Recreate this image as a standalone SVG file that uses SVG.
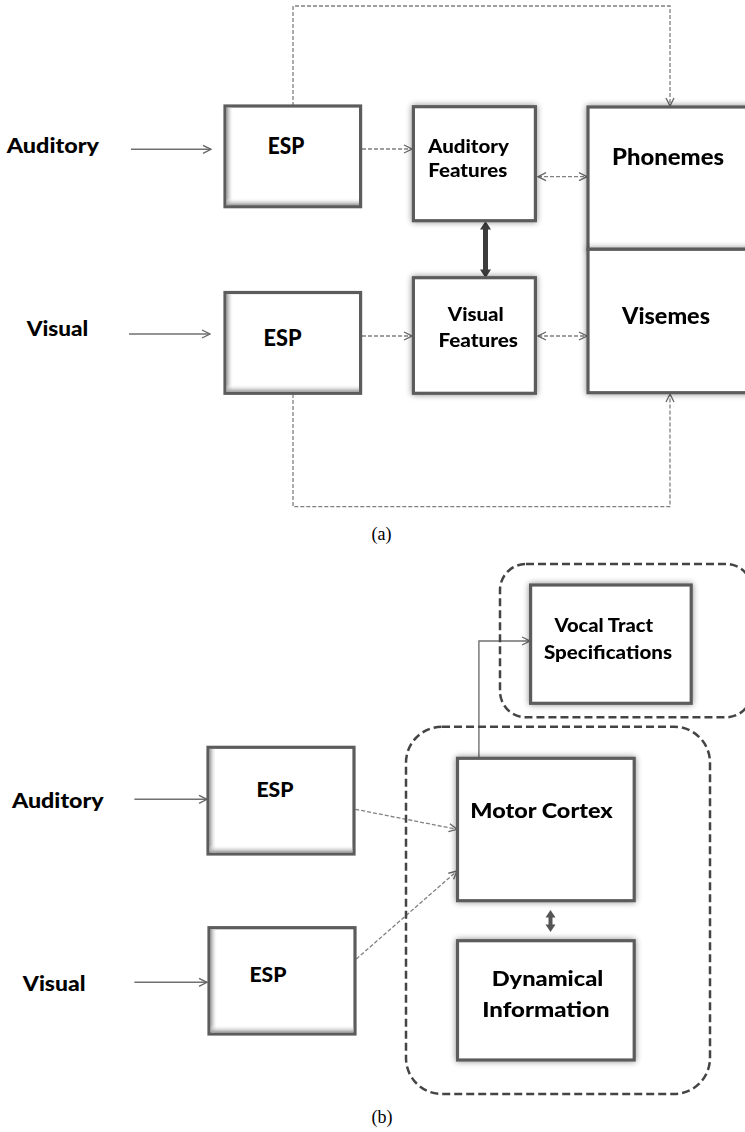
<svg xmlns="http://www.w3.org/2000/svg" width="745" height="1132" viewBox="0 0 745 1132">
<style>
.box{fill:#fff;stroke:#5c5c5c;stroke-width:3.2}
.glow{filter:url(#glow)}
.lbl{font-family:Lato,"Liberation Sans",sans-serif;font-weight:900;fill:#000}
.cap{font-family:"Liberation Serif",serif;font-size:18px;fill:#000;text-anchor:middle}
.solid{fill:none;stroke:#707070;stroke-width:1.4}
.dash{fill:none;stroke:#808080;stroke-width:1.3;stroke-dasharray:4 2}
.grp{fill:none;stroke:#444;stroke-width:2.5;stroke-dasharray:8 4}
.thick{fill:#3c3c3c}
</style>
<defs>
<filter id="glow" x="-20%" y="-20%" width="140%" height="140%">
<feGaussianBlur in="SourceAlpha" stdDeviation="3"/>
<feComponentTransfer><feFuncA type="linear" slope="0.45"/></feComponentTransfer>
<feMerge><feMergeNode/><feMergeNode in="SourceGraphic"/></feMerge>
</filter>
<linearGradient id="gl" x1="0" y1="0" x2="1" y2="0"><stop offset="0" stop-color="#999"/><stop offset="1" stop-color="#fff" stop-opacity="0"/></linearGradient>
<linearGradient id="gb" x1="0" y1="0" x2="0" y2="1"><stop offset="0" stop-color="#fff" stop-opacity="0"/><stop offset="1" stop-color="#999"/></linearGradient>
<marker id="ah" viewBox="0 0 10 10" refX="9" refY="5" markerWidth="10" markerHeight="10" markerUnits="userSpaceOnUse" orient="auto-start-reverse">
<path d="M1,1 L9,5 L1,9" fill="none" stroke="#666" stroke-width="1.3"/>
</marker>
</defs>

<!-- connectors -->
<g id="connectors">
<!-- (a) -->
<line class="solid" x1="131" y1="149.3" x2="211" y2="149.3" marker-end="url(#ah)"/>
<line class="solid" x1="129" y1="334" x2="210" y2="334" marker-end="url(#ah)"/>
<path class="dash" d="M293,106 V6 H670 V106" marker-end="url(#ah)"/>
<path class="dash" d="M293,394 V506.7 H670 V394" marker-end="url(#ah)"/>
<line class="dash" x1="362" y1="149" x2="412" y2="149" marker-end="url(#ah)"/>
<line class="dash" x1="362" y1="336" x2="412" y2="336" marker-end="url(#ah)"/>
<line class="dash" x1="538" y1="176.7" x2="587" y2="176.7" marker-start="url(#ah)" marker-end="url(#ah)"/>
<line class="dash" x1="538" y1="336" x2="587" y2="336" marker-start="url(#ah)" marker-end="url(#ah)"/>
<path class="thick" d="M485.5,221 L491,229.5 L488,229.5 L488,269.5 L491,269.5 L485.5,278 L480,269.5 L483,269.5 L483,229.5 L480,229.5 Z"/>
<!-- (b) -->
<line class="solid" x1="134.4" y1="799.3" x2="207" y2="799.3" marker-end="url(#ah)"/>
<line class="solid" x1="134.4" y1="982.3" x2="207" y2="982.3" marker-end="url(#ah)"/>
<line class="dash" x1="355.3" y1="809.3" x2="457" y2="829.3" marker-end="url(#ah)"/>
<line class="dash" x1="356.3" y1="959" x2="457" y2="871" marker-end="url(#ah)"/>
<path class="solid" d="M478.9,758 V641 H530" marker-end="url(#ah)"/>
<path class="thick" style="fill:#555" d="M550.5,910 L555.5,917.5 L552.5,917.5 L552.5,924.5 L555.5,924.5 L550.5,932 L545.5,924.5 L548.5,924.5 L548.5,917.5 L545.5,917.5 Z"/>
</g>

<!-- group outlines (b) -->
<g id="group-vocal"><rect class="grp" x="500" y="564" width="252" height="153.3" rx="26"/></g>
<g id="group-motor"><rect class="grp" x="406" y="726.7" width="304" height="367.3" rx="36"/></g>

<!-- (a) nodes -->
<g id="a-auditory-label"><text class="lbl" x="6.7" y="153" font-size="21" textLength="92.3" lengthAdjust="spacingAndGlyphs">Auditory</text></g>
<g id="a-visual-label"><text class="lbl" x="26.7" y="336" font-size="21" textLength="61.6" lengthAdjust="spacingAndGlyphs">Visual</text></g>

<g id="a-esp-auditory">
<rect class="box" x="225" y="106" width="135.6" height="100.7"/>
<rect x="226.6" y="107.6" width="7" height="97.5" fill="url(#gl)"/>
<rect x="226.6" y="197.7" width="132.4" height="7.4" fill="url(#gb)"/>
<text class="lbl" x="267.8" y="154" font-size="22" textLength="36.5" lengthAdjust="spacingAndGlyphs">ESP</text>
</g>
<g id="a-esp-visual">
<rect class="box" x="225" y="292.5" width="135.6" height="100.8"/>
<rect x="226.6" y="294.1" width="7" height="97.6" fill="url(#gl)"/>
<rect x="226.6" y="384.3" width="132.4" height="7.4" fill="url(#gb)"/>
<text class="lbl" x="263.6" y="345.7" font-size="22" textLength="38" lengthAdjust="spacingAndGlyphs">ESP</text>
</g>
<g id="a-auditory-features" class="glow">
<rect class="box" x="413.4" y="106.7" width="122" height="114"/>
<text class="lbl" x="428" y="152.5" font-size="19" textLength="81" lengthAdjust="spacingAndGlyphs">Auditory</text>
<text class="lbl" x="428.3" y="177" font-size="19" textLength="79" lengthAdjust="spacingAndGlyphs">Features</text>
</g>
<g id="a-visual-features" class="glow">
<rect class="box" x="413.4" y="277.7" width="122" height="115.6"/>
<text class="lbl" x="447.8" y="320.7" font-size="19" textLength="56" lengthAdjust="spacingAndGlyphs">Visual</text>
<text class="lbl" x="438.4" y="347.3" font-size="19" textLength="79.6" lengthAdjust="spacingAndGlyphs">Features</text>
</g>
<g id="a-phonemes" class="glow">
<rect class="box" x="588" y="107" width="170" height="142.3"/>
<text class="lbl" x="612" y="165" font-size="23" textLength="112" lengthAdjust="spacingAndGlyphs">Phonemes</text>
</g>
<g id="a-visemes" class="glow">
<rect class="box" x="588" y="249.3" width="170" height="143.4"/>
<text class="lbl" x="622" y="324" font-size="23" textLength="88" lengthAdjust="spacingAndGlyphs">Visemes</text>
</g>
<g id="caption-a"><text class="cap" x="381.5" y="540">(a)</text></g>

<!-- (b) nodes -->
<g id="b-auditory-label"><text class="lbl" x="11.9" y="808.3" font-size="21" textLength="91.7" lengthAdjust="spacingAndGlyphs">Auditory</text></g>
<g id="b-visual-label"><text class="lbl" x="22.8" y="990.7" font-size="21" textLength="62.7" lengthAdjust="spacingAndGlyphs">Visual</text></g>

<g id="b-esp-auditory">
<rect class="box" x="208" y="747.3" width="146" height="106.7"/>
<rect x="209.6" y="748.9" width="7" height="103.5" fill="url(#gl)"/>
<rect x="209.6" y="845" width="142.8" height="7.4" fill="url(#gb)"/>
<text class="lbl" x="256.5" y="797.3" font-size="20" textLength="37" lengthAdjust="spacingAndGlyphs">ESP</text>
</g>
<g id="b-esp-visual">
<rect class="box" x="209" y="927.7" width="146" height="106.3"/>
<rect x="210.6" y="929.3" width="7" height="103.1" fill="url(#gl)"/>
<rect x="210.6" y="1025" width="142.8" height="7.4" fill="url(#gb)"/>
<text class="lbl" x="249.4" y="982.3" font-size="20" textLength="37" lengthAdjust="spacingAndGlyphs">ESP</text>
</g>
<g id="b-vocal-tract" class="glow">
<rect class="box" x="530.6" y="585" width="160.6" height="118.3"/>
<text class="lbl" x="554.4" y="631.7" font-size="18" textLength="98.8" lengthAdjust="spacingAndGlyphs">Vocal Tract</text>
<text class="lbl" x="544" y="659" font-size="18" textLength="128" lengthAdjust="spacingAndGlyphs">Specifications</text>
</g>
<g id="b-motor-cortex" class="glow">
<rect class="box" x="457.5" y="758.3" width="176.7" height="142.4"/>
<text class="lbl" x="470.3" y="818.3" font-size="21" textLength="142.5" lengthAdjust="spacingAndGlyphs">Motor Cortex</text>
</g>
<g id="b-dynamical-information" class="glow">
<rect class="box" x="457.5" y="940.7" width="176.7" height="119.3"/>
<text class="lbl" x="491.7" y="985.7" font-size="21" textLength="111.6" lengthAdjust="spacingAndGlyphs">Dynamical</text>
<text class="lbl" x="482.2" y="1016.7" font-size="21" textLength="127.3" lengthAdjust="spacingAndGlyphs">Information</text>
</g>
<g id="caption-b"><text class="cap" x="382" y="1123">(b)</text></g>
</svg>
